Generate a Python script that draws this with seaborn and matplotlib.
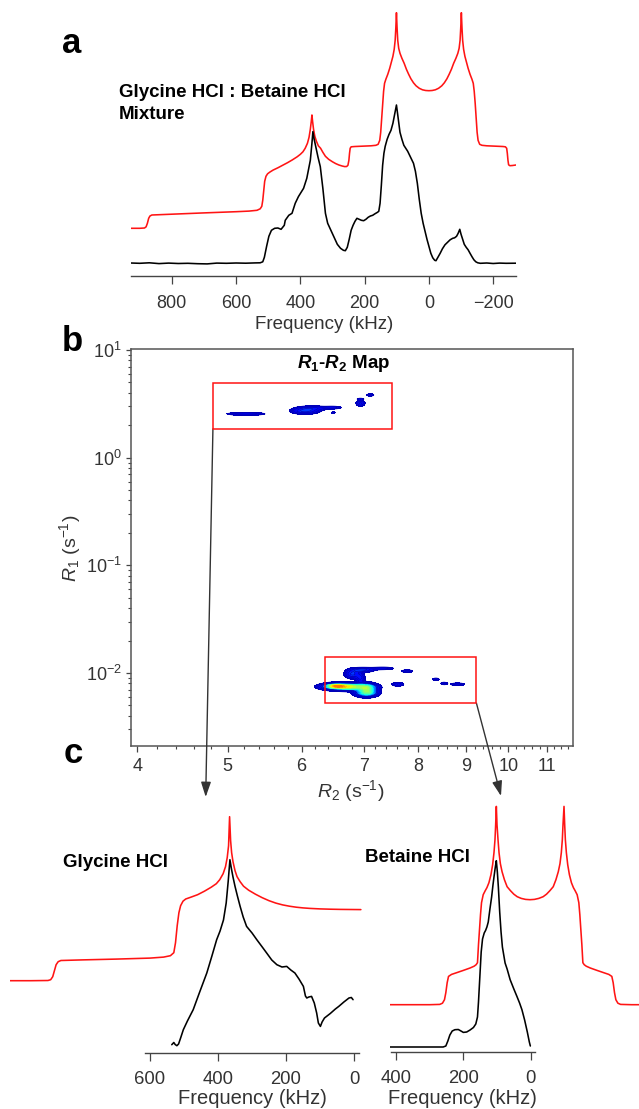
import numpy as np
import pandas as pd
import seaborn as sns
import matplotlib.pyplot as plt
import matplotlib.ticker as ticker
from matplotlib.patches import Rectangle

# ---------------------------------------------------------------
# DATA (intensities in arbitrary units)
# ---------------------------------------------------------------

# panel a : mixture, experimental (black) and simulated (red), (kHz, a.u.)
MIX_EXP = [
    (928, 0.3), (900, 0.0), (870, 0.5), (840, -0.3), (810, 0.2), (780, -0.2), (750, 0.0),
    (720, -0.4), (690, -0.6), (660, 0.2), (630, 0.0), (600, 0.3), (570, 0.1), (540, 0.4),
    (525, 0.5), (517, 1.5), (512, 6), (505, 17), (498, 27), (490, 33), (480, 35), (470, 35.3),
    (460, 34), (450, 38), (447, 43), (436, 48), (426, 50), (416, 60), (406, 66.7), (390, 75),
    (380, 85), (369, 103), (364, 120), (361, 131.7), (357, 124), (353, 118), (345, 106),
    (338, 96.7), (330, 75), (322, 50), (315, 40), (305, 33), (296, 26.7), (285, 19), (275, 15),
    (266, 13), (260, 12.6), (254, 16), (248, 24), (242, 33), (236, 38), (230, 42), (224, 45),
    (217, 44), (210, 43), (203, 42.6), (196, 44), (189, 46), (182, 47.3), (175, 48), (168, 49.5),
    (160, 51), (156, 52), (152, 60), (148, 78), (144, 98), (140, 110), (136, 117), (130, 124),
    (124, 129), (118, 133), (112, 140), (106, 150), (101, 158.3), (96, 146), (90, 131),
    (84, 124), (78, 118), (72, 115), (66, 112), (60, 108), (54, 104), (48, 100), (42, 92),
    (36, 80), (30, 64), (24, 50), (18, 40), (12, 32), (6, 24), (0, 17), (-6, 10), (-12, 5.5),
    (-18, 3), (-22, 2.6), (-28, 6), (-35, 10), (-42, 14.5), (-50, 18.5), (-58, 21), (-66, 23.5),
    (-74, 25), (-80, 25.5), (-86, 27), (-91, 30), (-96, 34), (-100, 29), (-105, 24), (-110, 19),
    (-116, 16), (-122, 13.5), (-128, 10), (-134, 6.6), (-140, 3.5), (-146, 1.5), (-152, 0.5),
    (-160, 0), (-180, 0.3), (-200, -0.2), (-220, 0.2), (-240, 0), (-271, 0.1),
]
MIX_SIM = [
    (927, 0), (900, 0), (885, 0.3), (880, 1.5), (876, 5), (872, 10), (868, 12.3), (862, 13.3),
    (840, 13.6), (800, 14.2), (750, 14.8), (700, 15.4), (650, 16), (600, 16.6), (560, 17.2),
    (535, 18), (525, 19.5), (520, 22), (517, 28), (514, 38), (511, 47), (507, 52), (502, 54.5),
    (495, 56.2), (485, 58.2), (470, 60.5), (455, 63), (440, 65.6), (425, 68.4), (410, 71.5),
    (400, 74), (392, 76.5), (385, 80), (378, 85), (373, 91), (369, 99), (366, 107), (364, 113.3),
    (362, 107), (359, 99), (355, 92), (350, 87), (344, 82.5), (337, 80), (330, 76), (322, 72),
    (312, 69), (300, 66.5), (290, 64.7), (280, 63.3), (270, 62.3), (262, 61.7), (256, 61.8),
    (252, 63), (249, 68), (247, 75), (245, 80), (242, 81.5), (230, 81.8), (215, 82), (200, 82.2),
    (180, 82.5), (165, 83), (158, 84), (153, 88), (150, 96), (147, 110), (144, 125), (141, 137),
    (138, 145), (134, 149), (128, 154), (122, 160), (117, 166), (112, 172), (108, 179),
    (105, 188), (103, 200), (101, 215.6), (99, 200), (97, 188), (94, 180), (90, 175), (84, 170),
    (77, 165), (70, 159), (63, 154), (56, 149.5), (48, 145.5), (40, 142.5), (30, 140), (20, 138.5),
    (10, 137.8), (0, 137.6), (-10, 137.8), (-20, 138.5), (-30, 140), (-40, 142.5), (-48, 145.5),
    (-56, 149.5), (-63, 154), (-70, 159), (-77, 165), (-84, 170), (-90, 175), (-94, 180),
    (-97, 188), (-99, 200), (-101, 215.6), (-103, 200), (-105, 188), (-108, 179), (-112, 172),
    (-117, 166), (-122, 160), (-128, 154), (-134, 149), (-138, 145), (-141, 137), (-144, 125),
    (-147, 110), (-150, 96), (-153, 88), (-158, 84), (-165, 83), (-180, 82.5), (-200, 82.2),
    (-215, 82), (-230, 81.8), (-238, 81.5), (-242, 80), (-244, 75), (-246, 68), (-248, 63.5),
    (-252, 62.6), (-260, 62.8), (-271, 63.3),
]

# panel c : glycine HCl, experimental (black) and simulated (red)
GLY_EXP = [
    (536, 8.3), (530, 10.5), (526, 8.5), (521, 7.3), (516, 9), (510, 15), (502, 23.3), (490, 32),
    (473, 43.3), (455, 60), (433, 80), (418, 97), (404, 113.3), (394, 122), (384, 133), (376, 150),
    (370, 172), (365, 193.3), (361, 185), (356, 176), (350, 166.6), (343, 157), (335, 146.6),
    (326, 136), (316, 126.6), (300, 120), (286, 113.3), (270, 106), (257, 100), (242, 93),
    (227, 88.3), (212, 86), (198, 86.6), (186, 83), (174, 80), (162, 74), (149, 66.6), (143, 57),
    (139, 55), (133, 56), (125, 56.6), (117, 50), (110, 40), (105, 30), (99, 26.6), (94, 31),
    (87, 35), (70, 39.5), (55, 44), (45, 46.6), (30, 51), (15, 55), (8, 55.5), (3, 53.3),
]
GLY_SIM = [
    (1012, 0), (950, 0), (900, 0.2), (892, 1), (886, 4), (881, 10), (876, 16), (870, 19),
    (862, 20.2), (800, 20.8), (700, 21.6), (600, 22.6), (560, 23.6), (540, 25), (530, 28),
    (525, 38), (520, 55), (515, 68), (510, 75), (503, 79.5), (495, 81.7), (480, 83.5), (460, 86),
    (440, 89.5), (420, 93.5), (405, 97), (395, 101), (385, 107), (378, 114), (373, 123),
    (369, 135), (366, 164), (363, 140), (360, 128), (356, 119), (350, 110), (344, 104), (335, 99),
    (325, 94.5), (310, 90.5), (290, 86.5), (270, 83), (250, 80), (230, 77.6), (210, 75.8),
    (190, 74.5), (170, 73.5), (150, 72.8), (130, 72.3), (100, 71.8), (70, 71.5), (40, 71.3),
    (10, 71.2), (-20, 71.1),
]

# panel c : betaine HCl, experimental (black) and simulated (red)
BET_EXP = [
    (418, 0), (300, 0), (260, 0), (252, 1), (246, 6), (240, 12), (233, 16), (225, 17.3),
    (215, 17.5), (207, 16), (200, 14.6), (190, 15), (180, 17), (170, 19.5), (163, 23), (158, 30),
    (155, 45), (151, 70), (147, 95), (143, 108), (138, 114), (134, 116.5), (130, 120), (126, 125),
    (121, 138), (116, 150), (112, 162), (109, 170), (105, 180), (102, 186.3), (99, 175), (96, 160),
    (92, 135), (88, 115), (84, 100), (80, 92), (76, 84), (70, 78), (61, 67.3), (50, 58), (41, 50.7),
    (33, 44), (26, 37.3), (18, 27), (10, 15), (4, 5), (1, 1),
]
BET_SIM = [
    (418, 0), (300, 0), (270, 0.3), (262, 1.5), (256, 5), (252, 12), (248, 22), (244, 28.3),
    (235, 30.3), (220, 32), (200, 34.3), (180, 36.7), (168, 38.5), (162, 40), (158, 42),
    (155, 60), (152, 75), (149, 90), (146, 102), (141, 110), (135, 114), (130, 117), (124, 122),
    (118, 130), (113, 140), (109, 152), (106, 165), (104, 180), (102, 198.3), (100, 180),
    (97, 165), (94, 152), (90, 141), (85, 133), (78, 125), (70, 118), (60, 114), (50, 110.5),
    (40, 108), (28, 106.3), (15, 105.3), (2, 105), (-11, 105.3), (-24, 106.3), (-37, 108),
    (-47, 110.5), (-57, 114), (-67, 118), (-75, 125), (-82, 133), (-87, 141), (-91, 152),
    (-94, 165), (-96, 180), (-99, 198.3), (-101, 180), (-103, 165), (-106, 152), (-110, 140),
    (-115, 130), (-121, 122), (-127, 117), (-132, 114), (-138, 110), (-143, 102), (-146, 90),
    (-149, 75), (-152, 60), (-155, 42), (-159, 40), (-165, 38.5), (-177, 36.7), (-197, 34.3),
    (-217, 32), (-232, 30.3), (-241, 28.3), (-245, 22), (-249, 12), (-253, 5), (-259, 1.5),
    (-267, 0.3), (-300, 0), (-322, 0),
]

# panel b : R1-R2 map peaks (R2 [1/s], R1 [1/s], log10 width R2, log10 width R1, amplitude)
PEAK_R2 = [5.23, 6.05, 6.17, 6.49, 6.49, 6.94, 6.94, 7.11,
           6.72, 7.06, 6.52, 7.04, 6.80, 6.98, 7.33, 6.94, 7.79, 7.61, 8.36, 8.53, 8.82]
PEAK_R1 = [2.55, 2.71, 2.89, 2.92, 2.62, 3.20, 3.51, 3.82,
           0.00745, 0.00715, 0.00759, 0.00653, 0.0098, 0.01069, 0.01104, 0.0090,
           0.0104, 0.00786, 0.00874, 0.0080, 0.00786]
PEAK_W2 = [0.0138, 0.0097, 0.0108, 0.0065, 0.002, 0.0032, 0.003, 0.0032,
           0.0150, 0.0060, 0.0065, 0.0075, 0.0054, 0.0075, 0.0086, 0.0032,
           0.0043, 0.0043, 0.0027, 0.0027, 0.0054]
PEAK_W1 = [0.0093, 0.0186, 0.014, 0.0093, 0.008, 0.0186, 0.006, 0.0093,
           0.0200, 0.030, 0.014, 0.0232, 0.028, 0.014, 0.0093, 0.028,
           0.0093, 0.012, 0.0093, 0.0093, 0.0093]
PEAK_AMP = [0.12, 0.17, 0.11, 0.09, 0.06, 0.13, 0.07, 0.08,
            0.62, 0.32, 0.40, 0.34, 0.17, 0.18, 0.10, 0.12,
            0.10, 0.12, 0.09, 0.09, 0.10]

# highlighted regions in the map: (R2 min, R2 max), (R1 min, R1 max)
BOX_R2 = [(4.82, 7.50), (6.35, 9.24)]
BOX_R1 = [(1.85, 4.94), (0.00526, 0.0141)]

R2_TICKS = [4, 5, 6, 7, 8, 9, 10, 11]
A_TICKS = [800, 600, 400, 200, 0, -200]
GLY_TICKS = [600, 400, 200, 0]
BET_TICKS = [400, 200, 0]

# ---------------------------------------------------------------
# STYLE
# ---------------------------------------------------------------
sns.set_theme(style="ticks")
plt.rcParams['font.family'] = ['Liberation Sans', 'DejaVu Sans']
plt.rcParams['mathtext.fontset'] = 'custom'
plt.rcParams['mathtext.rm'] = 'Liberation Sans'
plt.rcParams['mathtext.it'] = 'Liberation Sans:italic'
plt.rcParams['mathtext.bf'] = 'Liberation Sans:bold'
plt.rcParams['mathtext.bfit'] = 'Liberation Sans:bold:italic'

AX_COLOR = '#444444'
TXT_COLOR = '#333333'
RED = '#ff1414'

W, H = 639, 1109
fig = plt.figure(figsize=(W / 100, H / 100), dpi=100)


def box(left, top, right, bottom):
    # axes rectangle from pixel edges (origin top-left)
    return [left / W, 1 - bottom / H, (right - left) / W, (bottom - top) / H]


def draw_trace(ax, pairs, offset, color):
    df = pd.DataFrame(pairs, columns=['freq', 'inten'])
    df['y'] = df['inten'] + offset
    sns.lineplot(data=df, x='freq', y='y', ax=ax, color=color, lw=1.15,
                 sort=False, estimator=None)


def spectrum_axes(rect, xlim, ylim, ticks, bounds, tick_size, pad):
    ax = fig.add_axes(rect)
    ax.set_xlim(*xlim)
    ax.set_ylim(*ylim)
    for side in ['left', 'top', 'right']:
        ax.spines[side].set_visible(False)
    ax.spines['bottom'].set_color(AX_COLOR)
    ax.spines['bottom'].set_linewidth(1.0)
    if bounds is not None:
        ax.spines['bottom'].set_bounds(*bounds)
    ax.set_yticks([])
    ax.set_xticks(ticks)
    ax.xaxis.set_major_formatter(ticker.FuncFormatter(lambda v, p: f'{int(v)}'.replace('-', '\u2212')))
    ax.tick_params(axis='x', direction='out', length=5.5, width=0.9, color=AX_COLOR,
                   labelcolor=TXT_COLOR, labelsize=tick_size, pad=pad)
    ax.set_ylabel('')
    ax.patch.set_alpha(0)
    return ax


# ---------------------------------------------------------------
# PANEL a : MIXTURE SPECTRUM
# ---------------------------------------------------------------
ax_a = spectrum_axes(box(131, 8, 516, 276), (927, -271), (0, 268), A_TICKS, None, 13, 8)
draw_trace(ax_a, MIX_SIM, 47.7, RED)
draw_trace(ax_a, MIX_EXP, 12.7, 'black')
ax_a.set_xlabel('Frequency (kHz)', fontsize=13.5, color=TXT_COLOR, va='baseline')
ax_a.xaxis.set_label_coords(0.501, -0.196)

# ---------------------------------------------------------------
# PANEL b : R1-R2 MAP
# ---------------------------------------------------------------
ax_b = fig.add_axes(box(131, 349, 573, 746))
ax_b.set_xscale('log')
ax_b.set_yscale('log')
xl = (3.937, 11.73)
yl = (10 ** -2.678, 10 ** 1.009)

u = np.linspace(np.log10(xl[0]), np.log10(xl[1]), 1100)
v = np.linspace(np.log10(yl[0]), np.log10(yl[1]), 1500)
U, V = np.meshgrid(u, v)
Z = np.zeros_like(U)
for r2, r1, w2, w1, amp in zip(PEAK_R2, PEAK_R1, PEAK_W2, PEAK_W1, PEAK_AMP):
    Z += amp * np.exp(-0.5 * ((U - np.log10(r2)) / w2) ** 2 - 0.5 * ((V - np.log10(r1)) / w1) ** 2)

levels = np.arange(0.04, 0.84, 0.04)
ax_b.contourf(10 ** U, 10 ** V, Z, levels=levels, cmap='jet', vmin=0, vmax=1)
ax_b.contour(10 ** U, 10 ** V, Z, levels=levels[:4], colors='#0000b0', linewidths=0.5)

for (x0, x1), (y0, y1) in zip(BOX_R2, BOX_R1):
    ax_b.add_patch(Rectangle((x0, y0), x1 - x0, y1 - y0, fill=False, ec=RED, lw=1.1, zorder=5))

ax_b.set_xlim(*xl)
ax_b.set_ylim(*yl)
ax_b.xaxis.set_major_locator(ticker.FixedLocator(R2_TICKS))
ax_b.xaxis.set_minor_locator(ticker.FixedLocator(
    [t for t in np.arange(4.0, 11.75, 0.2) if abs(t - round(t)) > 0.05]))
ax_b.xaxis.set_major_formatter(ticker.FuncFormatter(lambda v, p: f'{v:g}'))
ax_b.xaxis.set_minor_formatter(ticker.NullFormatter())
for side in ax_b.spines.values():
    side.set_color('#555555')
    side.set_linewidth(1.1)
ax_b.tick_params(axis='both', which='both', direction='out', color=AX_COLOR,
                 labelcolor=TXT_COLOR, labelsize=13)
ax_b.tick_params(axis='x', which='major', length=4.1, width=0.9, pad=4.5)
ax_b.tick_params(axis='x', which='minor', length=2.0, width=0.8)
ax_b.tick_params(axis='y', which='major', length=3.4, width=0.9, pad=3.3)
ax_b.tick_params(axis='y', which='minor', length=2.2, width=0.8)

ax_b.set_xlabel(r'$R_2$ (s$^{-1}$)', fontsize=14, color=TXT_COLOR, va='baseline')
ax_b.xaxis.set_label_coords(0.498, -0.128)
ax_b.set_ylabel(r'$R_1$ (s$^{-1}$)', fontsize=14, color=TXT_COLOR, va='center')
ax_b.yaxis.set_label_coords(-0.138, 0.499)
ax_b.text(0.48, 0.952, r'$\mathbfit{R}_\mathbf{1}$-$\mathbfit{R}_\mathbf{2}$ Map',
          transform=ax_b.transAxes, ha='center', va='baseline', fontsize=13.5,
          fontweight='bold', color='black')

# arrows from the boxed regions down to the single-component spectra
ax_b.annotate('', xy=(205.7 / W, 1 - 797 / H), xycoords='figure fraction',
              xytext=(BOX_R2[0][0], BOX_R1[0][0]), textcoords='data',
              arrowprops=dict(arrowstyle='-|>,head_length=0.9,head_width=0.3', color='#333333',
                              lw=1.0, mutation_scale=10, shrinkA=0, shrinkB=0),
              annotation_clip=False)
ax_b.annotate('', xy=(501 / W, 1 - 796 / H), xycoords='figure fraction',
              xytext=(BOX_R2[1][1], BOX_R1[1][0]), textcoords='data',
              arrowprops=dict(arrowstyle='-|>,head_length=0.9,head_width=0.3', color='#333333',
                              lw=1.0, mutation_scale=10, shrinkA=0, shrinkB=0),
              annotation_clip=False)

# ---------------------------------------------------------------
# PANEL c : SINGLE COMPONENT SPECTRA
# ---------------------------------------------------------------
ax_c1 = spectrum_axes(box(10, 812, 362, 1053), (1011.6, -23.3), (0, 241), GLY_TICKS,
                      (615, -15), 13.3, 7.5)
draw_trace(ax_c1, GLY_SIM, 72.3, RED)
draw_trace(ax_c1, GLY_EXP, 0, 'black')
ax_c1.set_xlabel('Frequency (kHz)', fontsize=14.5, color=TXT_COLOR, va='baseline')
ax_c1.xaxis.set_label_coords(0.6875, -0.2116)

ax_c2 = spectrum_axes(box(390, 803, 639, 1052), (417.8, -321.7), (0, 249), BET_TICKS,
                      (415, -14), 13.3, 7.5)
draw_trace(ax_c2, BET_SIM, 47.3, RED)
draw_trace(ax_c2, BET_EXP, 5, 'black')
ax_c2.set_xlabel('Frequency (kHz)', fontsize=14.5, color=TXT_COLOR, va='baseline')
ax_c2.xaxis.set_label_coords(0.289, -0.2088)

# ---------------------------------------------------------------
# TEXT LABELS
# ---------------------------------------------------------------
def fig_text(x, y, s, **kw):
    fig.text(x / W, 1 - y / H, s, va='baseline', color='black', **kw)


fig_text(71.7, 53.3, 'a', fontsize=25, fontweight='bold', ha='center')
fig_text(72, 351, 'b', fontsize=25, fontweight='bold', ha='center')
fig_text(73, 763, 'c', fontsize=25, fontweight='bold', ha='center')
fig_text(119, 96.7, 'Glycine HCl : Betaine HCl', fontsize=13.5, fontweight='bold', ha='left')
fig_text(119, 119.3, 'Mixture', fontsize=13.5, fontweight='bold', ha='left')
fig_text(63.3, 866.7, 'Glycine HCl', fontsize=13.5, fontweight='bold', ha='left')
fig_text(365, 861.7, 'Betaine HCl', fontsize=13.5, fontweight='bold', ha='left')

fig.savefig('out.png', dpi=100)
